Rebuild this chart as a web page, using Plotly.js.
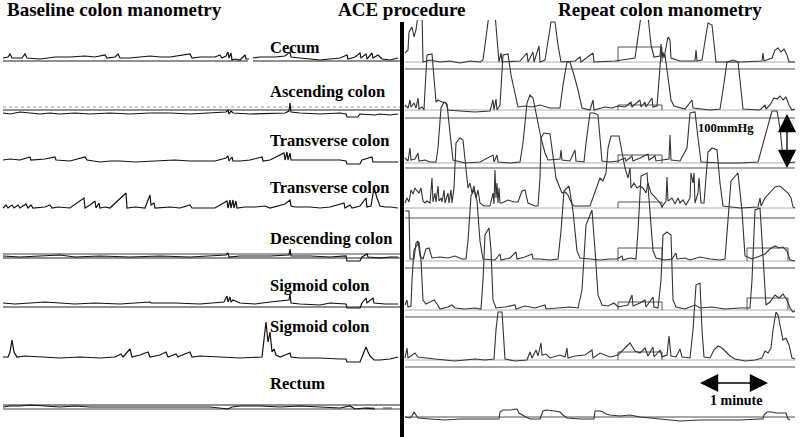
<!DOCTYPE html>
<html>
<head>
<meta charset="utf-8">
<script src="https://cdn.plot.ly/plotly-3.0.1.min.js"></script>
<style>
  html, body { margin: 0; padding: 0; background: #fff; }
  #myDiv { width: 800px; height: 437px; }
</style>
</head>
<body>
<div id="myDiv"></div>
<script>
// channel names, top to bottom
var channels = ['Cecum', 'Ascending colon', 'Transverse colon', 'Transverse colon',
  'Descending colon', 'Sigmoid colon', 'Sigmoid colon', 'Rectum'];

// pressure traces: [time, pressure (mmHg above resting level)]
// baseline recording (left half)
var cecumBase = [[3,0],[8,2],[10,8],[12,0],[22,0],[25,8],[27,0],[40,-2],[48,0],[55,2],[70,2],[85,4],[95,2],[105,6],[107,0],[115,2],[118,8],[120,0],[130,0],[145,2],[150,4],[160,2],[170,2],[190,8],[192,0],[200,2],[215,2],[220,6],[222,0],[226,4],[228,12],[229,0],[231,10],[232,-4],[235,-2],[240,-4],[245,6],[246,-2],[249,-2],[250,null],[253,0],[260,2],[275,2],[285,4],[290,12],[291,2],[300,0],[320,-4],[330,-2],[340,0],[347,6],[348,-2],[355,2],[360,10],[361,0],[366,8],[367,-2],[372,10],[373,0],[378,6],[382,-2],[390,-4],[398,0]];
var ascendingBase = [[3,0],[10,-2],[20,2],[30,0],[40,-2],[50,0],[60,-2],[75,0],[90,-2],[110,0],[130,-2],[150,0],[170,0],[190,-2],[210,0],[226,2],[228,6],[229,-2],[231,4],[233,0],[250,-2],[270,0],[285,0],[289,4],[290,20],[291,2],[300,0],[320,-2],[340,0],[346,-2],[347,-8],[358,-8],[360,-2],[375,-4],[380,-2],[390,-4],[398,-2]];
var transverse1Base = [[3,0],[10,2],[20,0],[30,6],[31,0],[45,2],[55,6],[56,0],[70,-2],[85,6],[87,0],[95,-2],[100,-4],[110,-2],[120,-2],[135,-4],[150,-2],[160,-2],[175,0],[190,-2],[200,-2],[215,-2],[226,4],[228,8],[229,-2],[232,6],[233,-2],[240,-2],[250,0],[262,6],[263,-2],[270,0],[284,14],[285,0],[287,16],[288,0],[290,14],[291,0],[300,0],[320,0],[340,0],[346,-2],[347,-8],[360,-8],[362,0],[372,6],[373,-4],[380,-4],[390,-4],[398,-4]];
var transverse2Base = [[3,0],[6,6],[8,0],[12,6],[14,0],[18,6],[20,0],[26,8],[28,0],[31,6],[33,0],[45,2],[50,6],[52,0],[58,2],[70,0],[84,20],[85,0],[90,6],[95,14],[96,0],[99,10],[100,0],[105,2],[110,0],[126,30],[127,0],[135,2],[145,0],[150,26],[151,6],[154,10],[155,0],[170,2],[180,0],[190,6],[192,0],[200,0],[215,0],[227,14],[228,0],[230,16],[231,0],[233,16],[234,0],[236,14],[237,0],[245,2],[255,2],[265,4],[270,0],[285,8],[290,16],[291,4],[295,2],[310,2],[320,0],[330,2],[344,10],[345,0],[350,6],[352,0],[360,4],[366,20],[367,2],[371,4],[374,40],[377,20],[380,4],[385,2],[390,2],[398,0]];
var descendingBase = [[3,0],[20,-2],[40,0],[60,2],[75,-2],[100,0],[130,-2],[160,0],[190,-2],[210,0],[226,2],[228,6],[229,-2],[240,0],[270,0],[289,2],[290,14],[291,0],[310,0],[330,-2],[346,0],[347,-10],[360,-10],[362,-2],[367,4],[368,-2],[380,-4],[390,-2],[398,-2]];
var sigmoid1Base = [[3,0],[15,-2],[30,0],[45,2],[60,0],[75,-2],[95,0],[120,-2],[150,2],[151,0],[175,0],[200,-2],[224,2],[227,14],[228,2],[230,12],[231,2],[233,6],[240,0],[255,-2],[270,2],[285,4],[289,6],[290,18],[291,0],[300,-2],[320,-4],[330,0],[340,-2],[346,-2],[347,-10],[360,-10],[362,0],[366,10],[367,0],[373,10],[374,0],[385,-2],[398,-2]];
var sigmoid2Base = [[3,0],[8,0],[10,10],[12,34],[14,10],[17,0],[25,2],[40,0],[60,-2],[80,0],[100,-2],[115,0],[121,6],[123,0],[130,16],[132,0],[140,4],[148,10],[150,0],[160,4],[166,10],[168,0],[176,6],[178,0],[180,2],[190,10],[192,0],[200,2],[220,0],[240,-2],[262,0],[264,30],[266,70],[268,30],[270,50],[272,10],[274,16],[276,4],[280,0],[290,8],[291,0],[300,-2],[320,-2],[340,-4],[346,-4],[347,-10],[360,-10],[362,0],[366,20],[368,10],[370,2],[374,-6],[380,-6],[390,-4],[398,0]];
var rectumBase = [[3,0],[10,2],[20,2],[30,4],[45,2],[60,0],[75,2],[90,0],[120,0],[150,0],[180,0],[210,0],[228,-4],[232,0],[240,2],[260,2],[280,0],[300,2],[320,0],[340,-2],[350,2],[355,-4],[365,-2],[375,-4]];

// repeat recording after ACE (right half)
var cecumRepeat = [[405,18],[408,24],[409,60],[412,70],[414,50],[416,64],[418,94],[422,100],[423,0],[430,4],[440,0],[450,2],[460,-2],[470,2],[480,0],[483,4],[487,64],[489,96],[495,96],[497,44],[499,0],[501,18],[502,0],[520,2],[527,18],[528,0],[533,20],[534,0],[539,32],[540,0],[545,4],[549,54],[551,80],[555,80],[558,34],[561,0],[575,2],[580,10],[581,0],[593,18],[594,0],[615,2],[635,8],[639,64],[641,92],[648,92],[651,34],[654,10],[660,12],[661,36],[662,8],[663,20],[664,8],[668,50],[670,44],[671,8],[680,2],[695,2],[696,24],[697,2],[702,4],[706,54],[708,78],[712,74],[714,34],[716,0],[740,0],[762,2],[763,18],[764,2],[772,8],[775,24],[778,28],[781,20],[784,26],[787,14],[789,0],[795,0]];
var ascendingRepeat = [[405,10],[408,4],[410,20],[411,6],[414,14],[416,4],[418,24],[419,2],[422,6],[424,0],[425,40],[427,110],[432,112],[434,60],[436,16],[438,20],[442,16],[446,14],[448,0],[460,-2],[475,-4],[490,-2],[493,20],[494,0],[496,22],[497,0],[500,10],[503,110],[508,112],[511,70],[515,30],[518,6],[525,8],[532,6],[540,10],[550,4],[560,4],[563,50],[567,96],[570,96],[574,70],[578,40],[582,4],[590,0],[593,20],[594,0],[605,6],[612,4],[618,8],[625,6],[631,16],[632,6],[640,20],[641,6],[645,16],[646,6],[652,24],[653,6],[657,8],[659,60],[661,112],[665,110],[668,70],[671,20],[674,8],[685,2],[692,20],[693,4],[710,0],[720,2],[723,40],[727,96],[733,100],[738,96],[741,40],[743,2],[760,0],[765,10],[766,2],[770,10],[774,24],[777,22],[780,28],[783,20],[786,26],[789,10],[792,0],[795,2]];
var transverse1Repeat = [[405,10],[408,4],[410,30],[411,6],[415,8],[418,20],[419,4],[425,6],[430,2],[436,2],[438,30],[441,110],[444,122],[447,118],[450,60],[453,6],[465,0],[480,2],[493,16],[494,2],[497,16],[498,2],[510,0],[520,2],[523,40],[527,120],[530,136],[533,130],[537,90],[541,50],[545,20],[548,6],[560,8],[561,26],[562,6],[570,4],[575,26],[576,4],[584,2],[586,40],[590,100],[594,100],[598,96],[600,50],[602,4],[610,2],[618,4],[625,10],[626,4],[632,14],[633,4],[640,10],[648,18],[649,6],[655,14],[656,4],[662,6],[669,8],[670,56],[671,6],[680,4],[687,30],[690,100],[695,102],[698,50],[701,2],[720,0],[740,0],[758,2],[762,30],[767,70],[772,104],[777,104],[780,70],[783,10],[788,0],[795,2]];
var transverse2Repeat = [[405,10],[407,20],[409,12],[411,36],[413,28],[415,40],[417,34],[419,30],[421,40],[423,14],[425,10],[427,14],[430,10],[432,60],[433,12],[435,30],[436,12],[438,44],[439,14],[441,20],[442,12],[444,36],[445,10],[448,30],[449,10],[451,36],[452,10],[454,40],[456,130],[460,140],[463,136],[466,80],[468,40],[470,50],[472,30],[474,44],[476,20],[478,36],[480,10],[484,4],[490,4],[493,30],[494,8],[495,76],[496,20],[497,50],[498,10],[499,40],[500,10],[502,10],[508,16],[514,12],[518,12],[522,34],[525,36],[528,10],[535,4],[538,4],[540,60],[541,140],[544,150],[550,148],[553,100],[556,60],[560,40],[562,30],[565,32],[568,26],[571,12],[574,4],[590,4],[593,20],[597,40],[600,60],[603,54],[606,70],[608,120],[611,144],[619,144],[622,110],[625,80],[628,60],[630,80],[631,40],[634,50],[637,40],[640,44],[643,40],[646,30],[648,50],[651,30],[656,20],[660,10],[662,2],[666,14],[667,62],[668,14],[672,20],[675,8],[678,20],[680,10],[683,16],[686,6],[690,20],[691,70],[693,50],[694,70],[695,10],[698,30],[699,60],[701,10],[704,10],[706,60],[708,112],[712,120],[717,116],[720,50],[723,4],[740,0],[758,2],[760,20],[761,4],[765,20],[770,30],[775,42],[780,44],[784,36],[788,30],[791,20],[793,2],[795,0]];
var descendingRepeat = [[405,100],[409,100],[410,4],[414,4],[416,36],[418,40],[420,10],[423,4],[426,24],[429,26],[432,6],[440,8],[448,6],[455,10],[462,4],[466,4],[468,40],[471,130],[474,142],[477,120],[480,40],[483,4],[495,2],[500,14],[501,2],[510,6],[516,18],[517,4],[525,8],[532,14],[533,4],[540,4],[550,2],[558,4],[561,60],[564,140],[569,150],[573,100],[577,20],[580,6],[590,4],[600,2],[610,4],[617,4],[622,10],[623,2],[630,6],[636,4],[638,60],[641,170],[647,176],[650,100],[653,20],[656,6],[665,2],[672,4],[676,16],[677,4],[685,6],[690,2],[700,8],[710,4],[720,2],[725,4],[727,60],[731,160],[738,176],[742,100],[745,10],[749,6],[752,4],[760,10],[765,14],[770,24],[775,30],[779,26],[783,28],[787,20],[790,2],[795,0]];
var sigmoid1Repeat = [[405,10],[407,20],[408,6],[411,8],[412,60],[414,120],[419,136],[421,100],[423,20],[426,12],[430,16],[434,20],[437,12],[440,2],[448,6],[452,10],[455,4],[465,2],[475,4],[481,2],[483,60],[485,150],[489,164],[491,120],[493,20],[496,4],[505,6],[515,10],[516,2],[525,8],[535,4],[545,10],[546,2],[555,4],[570,6],[578,4],[582,40],[586,170],[592,200],[595,120],[598,30],[602,10],[608,8],[614,14],[618,6],[628,10],[632,30],[633,8],[640,14],[645,20],[646,6],[653,26],[654,6],[658,4],[661,60],[663,150],[667,156],[671,150],[673,20],[676,6],[685,2],[695,10],[700,4],[712,6],[725,2],[740,4],[750,4],[752,60],[755,200],[760,204],[763,100],[766,10],[770,16],[775,30],[779,24],[783,32],[787,20],[790,4],[793,-4],[795,-2]];
var sigmoid2Repeat = [[405,4],[407,24],[408,4],[412,10],[415,14],[418,6],[425,4],[435,2],[445,0],[455,-2],[465,0],[475,2],[485,0],[494,2],[496,60],[498,96],[502,96],[504,40],[505,2],[515,-2],[527,0],[530,16],[532,4],[536,20],[538,8],[541,34],[542,10],[546,12],[550,4],[560,10],[565,6],[567,24],[568,4],[575,8],[585,10],[592,20],[593,4],[600,14],[610,6],[618,10],[625,24],[630,34],[635,18],[640,14],[645,24],[648,8],[653,26],[654,6],[660,20],[662,6],[667,10],[669,48],[671,8],[676,6],[680,22],[682,6],[690,4],[693,60],[696,150],[700,154],[702,60],[704,6],[710,4],[714,20],[718,28],[722,24],[726,16],[730,8],[735,2],[745,-2],[755,0],[762,4],[765,18],[768,14],[771,24],[773,60],[776,96],[778,90],[780,70],[783,40],[786,44],[789,30],[792,4],[795,2]];
var rectumRepeat = [[405,4],[410,2],[412,6],[414,14],[416,8],[418,2],[430,0],[445,-2],[460,0],[480,0],[499,0],[500,14],[503,18],[510,18],[514,20],[517,20],[519,12],[522,8],[526,4],[530,0],[540,0],[543,16],[546,18],[555,16],[560,14],[563,8],[567,2],[580,0],[594,0],[595,16],[600,16],[603,14],[606,10],[610,8],[620,6],[630,8],[640,4],[650,2],[660,0],[680,-4],[700,-2],[720,-2],[740,-2],[760,0],[763,0],[764,8],[767,14],[772,14],[776,12],[786,12],[788,0],[790,-2]];

var baseSeries = [cecumBase, ascendingBase, transverse1Base, transverse2Base, descendingBase, sigmoid1Base, sigmoid2Base, rectumBase];
var repeatSeries = [cecumRepeat, ascendingRepeat, transverse1Repeat, transverse2Repeat, descendingRepeat, sigmoid1Repeat, sigmoid2Repeat, rectumRepeat];

// page layout (pixel rows of each channel's resting level)
var baseRows = [58, 113, 160, 208, 256, 303, 357, 407];
var repeatRows = [62, 110, 163, 208, 261, 310, 360, 419];
var refRows = [69, 118, 168, 218, 268, 317, 367, 417];
var labelRows = [47, 91, 140, 187, 238, 285, 326, 383];

// stack channels: 2 mmHg per pixel, plot area starts 20px below top
function rowY(row) { return 874 - 2 * row; }

var data = [];
function addTrace(series, row, color, width) {
  data.push({
    x: series.map(function (d) { return d[0]; }),
    y: series.map(function (d) { return d[1] === null ? null : rowY(row) + d[1]; }),
    type: 'scatter', mode: 'lines', hoverinfo: 'skip', connectgaps: false,
    line: {color: color, width: width}
  });
}

var shapes = [];
function hline(x0, x1, row, color, width, dash) {
  shapes.push({type: 'line', xref: 'x', yref: 'y', x0: x0, x1: x1, y0: rowY(row), y1: rowY(row),
    line: {color: color, width: width, dash: dash || 'solid'}, layer: 'below'});
}

// right panel reference and zero lines
for (var i = 0; i < 8; i++) {
  hline(405, 795, refRows[i], '#8a8a8a', 1.4);
  if (i < 7) hline(405, 795, repeatRows[i], '#b0b0b0', 1);
}
// left panel guide lines
hline(3, 248, 61, '#222', 1.2); hline(253, 400, 61, '#222', 1.2);
hline(3, 400, 107, '#999', 1, 'dot'); hline(3, 400, 110, '#222', 1.2);
hline(3, 400, 254, '#444', 1); hline(3, 400, 258, '#222', 1.2);
hline(3, 400, 307, '#222', 1.2);
hline(3, 400, 405, '#222', 1.2); hline(3, 400, 409, '#444', 1);
hline(365, 400, 408, '#444', 1, 'dash');

// event marker boxes on the repeat recording
var markers = [[0, 618, 662, 15], [1, 618, 662, 5], [2, 618, 662, 8], [3, 618, 662, 6],
  [4, 618, 662, 13], [5, 618, 662, 8], [6, 618, 662, 8], [4, 747, 788, 13], [5, 747, 788, 12]];
markers.forEach(function (m) {
  var y0 = rowY(repeatRows[m[0]]), y1 = y0 + 2 * m[3];
  shapes.push({type: 'path', xref: 'x', yref: 'y',
    path: 'M' + m[1] + ',' + y0 + ' L' + m[1] + ',' + y1 + ' L' + m[2] + ',' + y1 + ' L' + m[2] + ',' + y0,
    line: {color: '#555', width: 1}, layer: 'below'});
});

// ACE divider
shapes.push({type: 'line', xref: 'x', yref: 'y', x0: 402, x1: 402, y0: 0, y1: rowY(22),
  line: {color: '#000', width: 4}});

// scale bar shafts
shapes.push({type: 'line', xref: 'x', yref: 'y', x0: 787, x1: 787, y0: rowY(120), y1: rowY(162),
  line: {color: '#000', width: 1.3}});
shapes.push({type: 'line', xref: 'x', yref: 'y', x0: 706, x1: 762, y0: rowY(383), y1: rowY(383),
  line: {color: '#000', width: 1.3}});

for (var k = 0; k < 8; k++) {
  addTrace(baseSeries[k], baseRows[k], '#111', 1.2);
  addTrace(repeatSeries[k], repeatRows[k], '#333', 1.1);
}

var serifFamily = 'Liberation Serif, Times New Roman, serif';
function font(size) { return {family: serifFamily, color: '#000', size: size}; }

var annotations = [
  {text: '<b>Baseline colon manometry</b>', xref: 'paper', yref: 'paper', x: 0.006, y: 1.024, xanchor: 'left', yanchor: 'middle', showarrow: false, font: font(19)},
  {text: '<b>ACE procedure</b>', xref: 'paper', yref: 'paper', x: 0.5025, y: 1.024, xanchor: 'center', yanchor: 'middle', showarrow: false, font: font(19)},
  {text: '<b>Repeat colon manometry</b>', xref: 'paper', yref: 'paper', x: 0.8245, y: 1.024, xanchor: 'center', yanchor: 'middle', showarrow: false, font: font(19)},
  {text: '<b>100mmHg</b>', xref: 'x', yref: 'y', x: 726, y: rowY(128), showarrow: false, font: font(12.5)},
  {text: '<b>1 minute</b>', xref: 'x', yref: 'y', x: 736, y: rowY(400), showarrow: false, font: font(14)}
];
channels.forEach(function (name, i) {
  annotations.push({text: '<b>' + name + '</b>', xref: 'x', yref: 'y', x: 268, y: rowY(labelRows[i]),
    xanchor: 'left', yanchor: 'middle', showarrow: false, font: font(16.5)});
});
// scale arrow heads
function arrow(xTip, yTip, xTail, yTail) {
  annotations.push({text: '', xref: 'x', yref: 'y', axref: 'x', ayref: 'y',
    x: xTip, y: rowY(yTip), ax: xTail, ay: rowY(yTail), showarrow: true,
    arrowhead: 2, arrowsize: 2.8, arrowwidth: 1.3, arrowcolor: '#000', standoff: 0});
}
arrow(787, 114, 787, 134); arrow(787, 168, 787, 148);
arrow(700, 383, 720, 383); arrow(768, 383, 748, 383);

var layout = {
  width: 800, height: 437,
  margin: {l: 0, r: 0, t: 20, b: 0},
  paper_bgcolor: '#fff', plot_bgcolor: '#fff',
  showlegend: false,
  xaxis: {range: [0, 800], visible: false, fixedrange: true},
  yaxis: {range: [0, 834], visible: false, fixedrange: true},
  shapes: shapes,
  annotations: annotations
};

Plotly.newPlot('myDiv', data, layout, {displayModeBar: false, staticPlot: true});
</script>
</body>
</html>
